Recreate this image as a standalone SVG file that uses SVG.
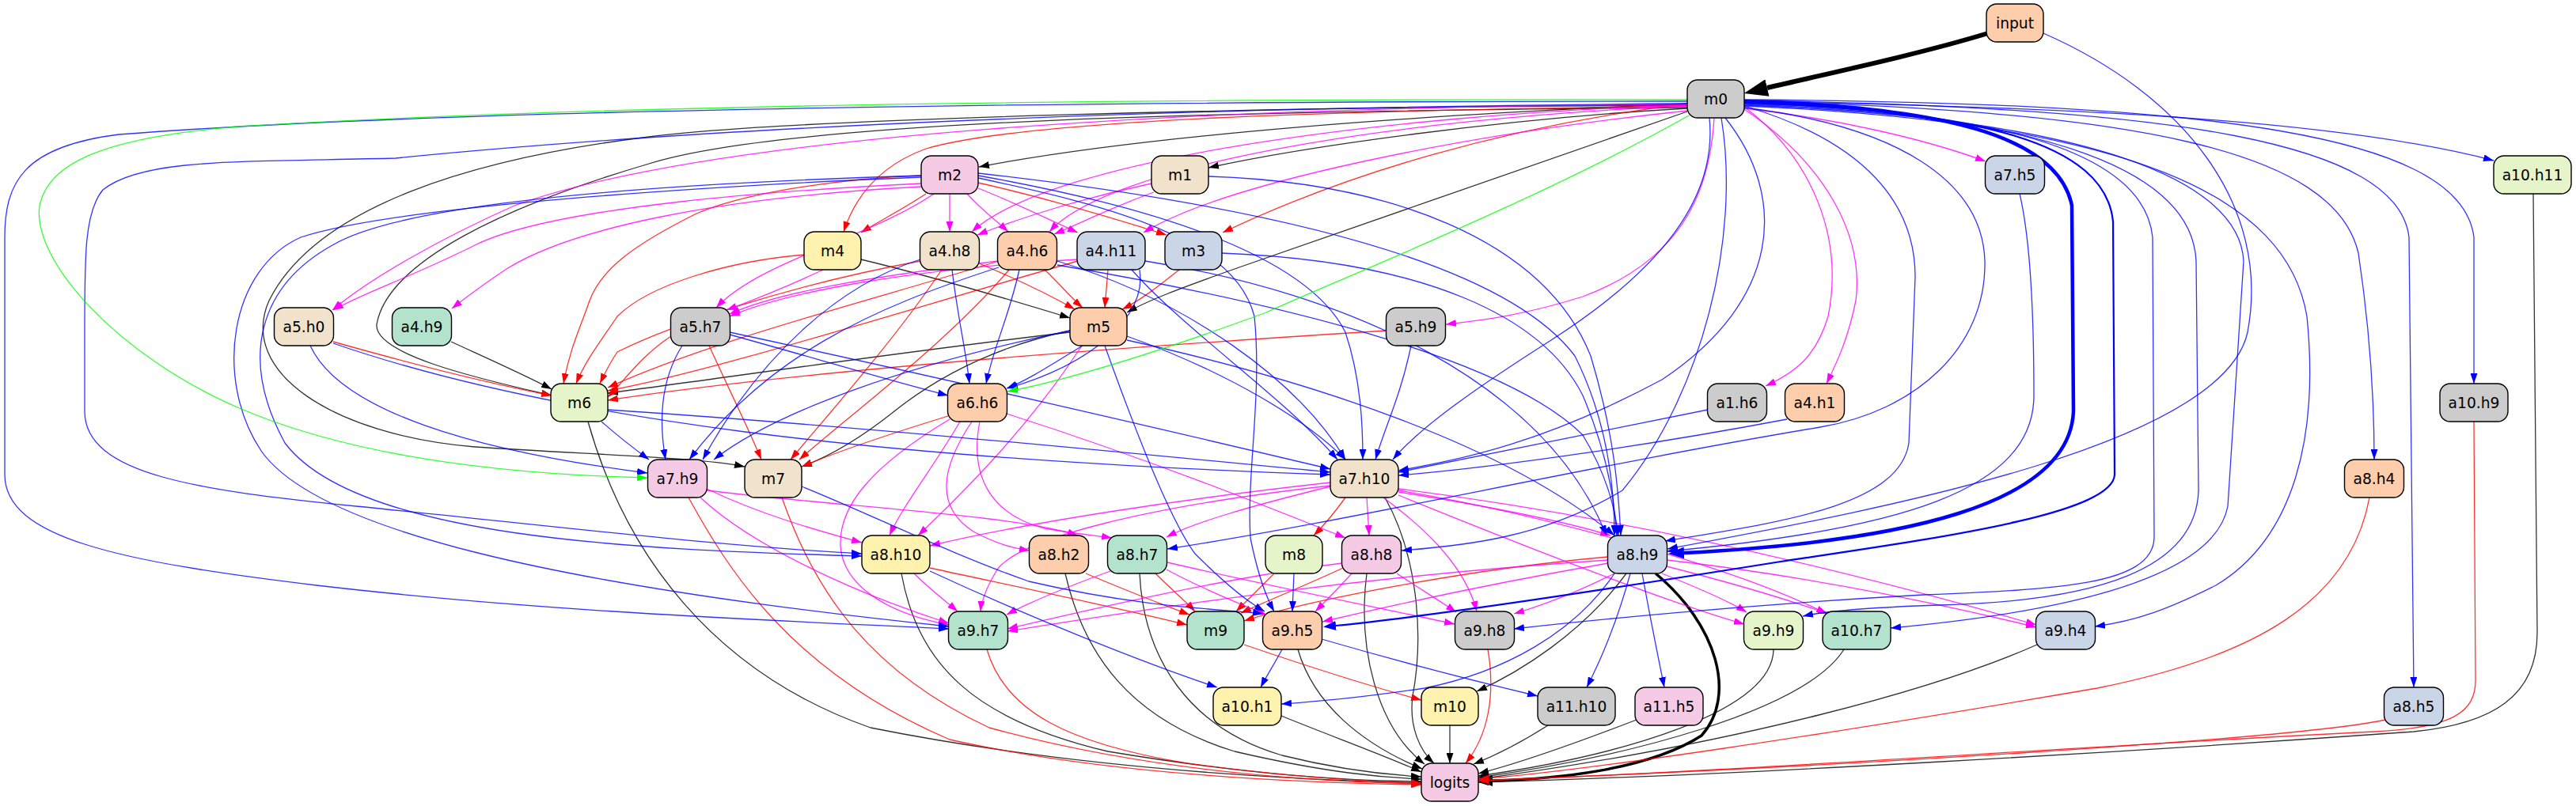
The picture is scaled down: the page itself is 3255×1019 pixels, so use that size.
<svg xmlns="http://www.w3.org/2000/svg" width="3255" height="1019" viewBox="0 0 3255 1019">
<style>
.n rect{stroke:#000;stroke-width:1.4}
.n text{font-family:"DejaVu Sans","Liberation Sans",sans-serif;font-size:18.67px;text-anchor:middle;fill:#000}
#edges path{fill:none;stroke-width:1.3;stroke-opacity:0.8}
#edges .b{stroke:#0000ff;marker-end:url(#ab)}
#edges .r{stroke:#ff0000;marker-end:url(#ar)}
#edges .m{stroke:#ff00ff;marker-end:url(#am)}
#edges .k{stroke:#000;marker-end:url(#ak)}
#edges .g{stroke:#00ff00;marker-end:url(#ag)}
.c1{fill:#b3e2cd}.c2{fill:#fdcdac}.c3{fill:#cbd5e8}.c4{fill:#f4cae4}.c5{fill:#e6f5c9}.c6{fill:#fff2ae}.c7{fill:#f1e2cc}.c8{fill:#cccccc}
</style>
<defs>
<marker id="ab" viewBox="0 0 13 9" refX="13" refY="4.5" markerWidth="13" markerHeight="9" markerUnits="userSpaceOnUse" orient="auto"><path d="M0,0L13,4.5L0,9z" fill="#0000ff"/></marker>
<marker id="ar" viewBox="0 0 13 9" refX="13" refY="4.5" markerWidth="13" markerHeight="9" markerUnits="userSpaceOnUse" orient="auto"><path d="M0,0L13,4.5L0,9z" fill="#ff0000"/></marker>
<marker id="am" viewBox="0 0 13 9" refX="13" refY="4.5" markerWidth="13" markerHeight="9" markerUnits="userSpaceOnUse" orient="auto"><path d="M0,0L13,4.5L0,9z" fill="#ff00ff"/></marker>
<marker id="ak" viewBox="0 0 13 9" refX="13" refY="4.5" markerWidth="13" markerHeight="9" markerUnits="userSpaceOnUse" orient="auto"><path d="M0,0L13,4.5L0,9z" fill="#000"/></marker>
<marker id="ag" viewBox="0 0 13 9" refX="13" refY="4.5" markerWidth="13" markerHeight="9" markerUnits="userSpaceOnUse" orient="auto"><path d="M0,0L13,4.5L0,9z" fill="#00ff00"/></marker>
<marker id="ak6" viewBox="0 0 30 22" refX="0" refY="11" markerWidth="30" markerHeight="22" markerUnits="userSpaceOnUse" orient="auto"><path d="M0,0L30,11L0,22z" fill="#000"/></marker>
<marker id="ak4" viewBox="0 0 18 14" refX="0" refY="7" markerWidth="18" markerHeight="14" markerUnits="userSpaceOnUse" orient="auto"><path d="M0,0L18,7L0,14z" fill="#000"/></marker>
<marker id="ab4" viewBox="0 0 20 15" refX="0" refY="7.5" markerWidth="20" markerHeight="15" markerUnits="userSpaceOnUse" orient="auto"><path d="M0,0L20,7.5L0,15z" fill="#0000ff"/></marker>
<marker id="ab2" viewBox="0 0 16 12" refX="0" refY="6" markerWidth="16" markerHeight="12" markerUnits="userSpaceOnUse" orient="auto"><path d="M0,0L16,6L0,12z" fill="#0000ff"/></marker>
</defs>
<rect width="3255" height="1019" fill="#fff"/>
<g id="edges">
<!-- black -->
<path d="M2512,42 C2420,70 2300,95 2233,111" style="stroke:#000;stroke-width:6;stroke-opacity:1;marker-end:url(#ak6)"/>
<path class="k" d="M2132,131 C1800,145 1450,170 1237,211"/>
<path class="k" d="M2132,137 C1900,150 1650,185 1527,212"/>
<path class="k" d="M2132,136 C1600,140 1000,150 820,207 C640,260 490,330 476,410 C472,450 620,482 697,500"/>
<path class="k" d="M2132,133 C1600,135 1000,150 820,173 C600,200 400,260 340,380 C300,470 420,550 600,565 C750,575 880,578 941,590"/>
<path class="k" d="M2132,141 C1900,220 1700,290 1560,340 C1490,365 1450,380 1424,395"/>
<path class="k" d="M1088,328 C1180,350 1280,380 1352,402"/>
<path class="k" d="M570,432 C620,455 665,475 697,492"/>
<path class="k" d="M1352,420 C1100,450 900,480 768,497"/>
<path class="k" d="M1352,418 C1250,440 1180,480 1130,520 C1080,560 1040,580 1013,590"/>
<path class="k" d="M743,533 C790,700 900,850 1100,920 C1350,970 1600,985 1796,990"/>
<path class="k" d="M1139,725 C1160,840 1230,910 1400,950 C1580,980 1700,987 1796,988"/>
<path class="k" d="M1346,725 C1370,830 1430,910 1560,950 C1680,978 1750,983 1796,985"/>
<path class="k" d="M1440,725 C1445,830 1500,920 1620,955 C1700,975 1760,980 1796,982"/>
<path class="k" d="M1640,821 C1660,890 1720,940 1797,972"/>
<path class="k" d="M1619,905 C1680,930 1750,955 1796,976"/>
<path class="k" d="M1727,725 C1715,820 1740,920 1800,966"/>
<path class="k" d="M1750,629 C1790,700 1800,800 1785,880 C1780,920 1795,950 1812,965"/>
<path class="k" d="M1832,917 L1832,965"/>
<path class="k" d="M1956,917 C1920,940 1890,955 1862,966"/>
<path class="k" d="M2068,910 C1990,940 1920,965 1868,978"/>
<path d="M2092,725 C2170,790 2195,880 2150,930 C2080,975 1960,985 1886,987" style="stroke:#000;stroke-width:3.5;stroke-opacity:1;marker-end:url(#ak4)"/>
<path class="k" d="M2241,821 C2240,900 2050,955 1868,981"/>
<path class="k" d="M2330,821 C2280,900 2050,958 1868,983"/>
<path class="k" d="M2574,815 C2450,870 2200,940 1868,985"/>
<path class="k" d="M3201,245 L3206,800 C3206,880 3150,915 3050,925 C2700,950 2200,980 1868,989"/>
<path class="k" d="M2055,725 C2000,800 1920,850 1866,874"/>
<!-- red -->
<path class="r" d="M2132,134 C1700,140 1300,150 1170,188 C1110,210 1080,250 1066,293"/>
<path class="r" d="M2132,131 C1900,160 1700,220 1545,294"/>
<path class="r" d="M1170,245 C1140,265 1110,280 1088,294"/>
<path class="r" d="M1236,231 C1320,250 1420,280 1474,297"/>
<path class="r" d="M1164,222 C1080,225 950,240 880,270 C800,310 760,340 745,380 C735,410 720,440 712,485"/>
<path class="r" d="M1017,322 C920,330 820,360 780,400 C760,430 740,455 728,485"/>
<path class="r" d="M1163,330 C1000,360 850,410 780,445 C770,460 765,470 758,485"/>
<path class="r" d="M1262,330 C1100,380 900,430 768,490"/>
<path class="r" d="M1362,330 C1150,390 900,470 768,494"/>
<path class="r" d="M848,425 C810,450 790,480 768,502"/>
<path class="r" d="M1752,418 C1400,440 1000,470 768,506"/>
<path class="r" d="M421,432 C520,460 620,485 697,500"/>
<path class="r" d="M1237,333 C1290,355 1330,375 1358,391"/>
<path class="r" d="M1320,341 C1340,360 1355,378 1368,389"/>
<path class="r" d="M1400,341 L1396,389"/>
<path class="r" d="M1490,341 C1460,365 1440,380 1418,391"/>
<path class="r" d="M1190,341 C1130,430 1050,520 999,581"/>
<path class="r" d="M1275,341 C1200,430 1080,520 1010,581"/>
<path class="r" d="M896,437 C920,490 945,540 962,581"/>
<path class="r" d="M1198,526 C1120,550 1060,570 1013,590"/>
<path class="r" d="M1700,629 C1685,650 1672,665 1660,677"/>
<path class="r" d="M1175,718 C1300,745 1420,770 1500,790"/>
<path class="r" d="M1372,725 C1420,745 1470,765 1503,777"/>
<path class="r" d="M1460,725 C1480,745 1498,760 1510,773"/>
<path class="r" d="M1610,725 C1590,745 1575,760 1562,773"/>
<path class="r" d="M1697,718 C1650,740 1600,760 1568,775"/>
<path class="r" d="M2032,704 C1850,720 1650,760 1572,785"/>
<path class="r" d="M1572,815 C1660,845 1740,870 1796,885"/>
<path class="r" d="M1247,821 C1270,900 1350,940 1500,965 C1650,985 1740,988 1796,990"/>
<path class="r" d="M870,629 C920,720 1000,850 1200,935 C1400,980 1650,990 1796,992"/>
<path class="r" d="M988,629 C1030,750 1100,850 1250,920 C1450,975 1650,988 1796,991"/>
<path class="r" d="M1880,821 C1890,880 1880,930 1852,965"/>
<path class="r" d="M2994,629 C2970,760 2850,830 2650,870 C2300,930 2000,975 1868,985"/>
<path class="r" d="M3126,533 L3128,860 C3128,900 3100,920 3000,925 C2600,945 2200,975 1868,987"/>
<path class="r" d="M3014,910 C2900,935 2300,970 1868,987"/>
<!-- magenta -->
<path class="m" d="M2204,137 C2320,150 2430,175 2509,204"/>
<path class="m" d="M2132,133 C1750,145 1330,200 1228,293"/>
<path class="m" d="M2132,134 C1750,150 1400,210 1326,293"/>
<path class="m" d="M2132,140 C1850,170 1550,230 1445,294"/>
<path class="m" d="M2132,132 C1500,135 900,170 650,260 C560,300 470,350 420,392"/>
<path class="m" d="M2166,149 C2160,250 2120,330 2000,375 C1920,400 1870,405 1827,410"/>
<path class="m" d="M2204,135 C2290,200 2330,300 2310,400 C2295,450 2270,470 2231,488"/>
<path class="m" d="M2204,138 C2310,210 2355,300 2345,380 C2335,430 2320,460 2308,485"/>
<path class="m" d="M1200,245 L1200,293"/>
<path class="m" d="M1222,245 C1240,265 1260,280 1274,293"/>
<path class="m" d="M1236,238 C1280,255 1330,280 1362,294"/>
<path class="m" d="M1180,245 C1100,300 960,330 905,389"/>
<path class="m" d="M1164,232 C1000,240 700,260 600,310 C520,350 460,370 421,392"/>
<path class="m" d="M1164,236 C900,250 720,290 640,340 C610,360 590,375 571,390"/>
<path class="m" d="M1455,232 C1370,250 1290,275 1235,297"/>
<path class="m" d="M1458,243 C1410,260 1370,280 1332,296"/>
<path class="m" d="M1040,341 C1000,360 950,380 918,392"/>
<path class="m" d="M1261,330 C1100,350 980,370 922,397"/>
<path class="m" d="M1361,328 C1150,340 990,370 922,400"/>
<path class="m" d="M1367,437 C1300,540 1220,620 1160,677"/>
<path class="m" d="M1213,533 C1180,590 1140,640 1124,677"/>
<path class="m" d="M1200,530 C1100,590 1060,640 1062,690 C1065,740 1120,775 1199,790"/>
<path class="m" d="M1228,533 C1190,590 1180,640 1230,672 C1260,688 1280,693 1301,696"/>
<path class="m" d="M1238,533 C1225,600 1250,650 1320,668 C1360,675 1385,677 1405,680"/>
<path class="m" d="M1272,523 C1450,580 1600,640 1700,680"/>
<path class="m" d="M893,618 C960,650 1030,670 1089,686"/>
<path class="m" d="M885,629 C950,690 1080,750 1199,788"/>
<path class="m" d="M893,620 C1050,640 1280,650 1362,677"/>
<path class="m" d="M1727,629 L1730,677"/>
<path class="m" d="M1767,622 C1880,640 1980,660 2035,677"/>
<path class="m" d="M1681,615 C1580,640 1510,660 1474,679"/>
<path class="m" d="M1681,610 C1500,630 1300,660 1175,690"/>
<path class="m" d="M1681,614 C1450,640 1290,680 1260,720 C1245,745 1240,760 1239,773"/>
<path class="m" d="M1748,629 C1790,660 1850,710 1866,773"/>
<path class="m" d="M1767,626 C1900,680 2100,760 2204,789"/>
<path class="m" d="M1767,620 C1950,650 2200,720 2308,776"/>
<path class="m" d="M1767,618 C2100,660 2400,740 2573,790"/>
<path class="m" d="M1155,725 C1175,745 1195,760 1210,773"/>
<path class="m" d="M1403,722 C1340,745 1300,762 1272,777"/>
<path class="m" d="M1474,720 C1520,745 1570,765 1600,777"/>
<path class="m" d="M1475,711 C1600,740 1750,770 1838,789"/>
<path class="m" d="M1708,725 C1690,745 1675,760 1662,773"/>
<path class="m" d="M1765,725 C1795,745 1820,760 1840,774"/>
<path class="m" d="M1696,712 C1550,730 1380,770 1273,795"/>
<path class="m" d="M2032,708 C1700,730 1450,770 1273,798"/>
<path class="m" d="M2032,712 C1900,735 1760,765 1671,786"/>
<path class="m" d="M2040,725 C1990,750 1950,765 1913,776"/>
<path class="m" d="M2100,725 C2150,745 2185,760 2207,774"/>
<path class="m" d="M2106,716 C2200,740 2270,762 2310,776"/>
<path class="m" d="M2106,708 C2300,730 2480,770 2573,793"/>
<!-- blue -->
<path class="b" d="M2582,42 C2760,120 2870,260 2840,420 C2810,560 2400,640 2107,694"/>
<path class="b" d="M2204,128 C2600,135 2950,150 3151,203"/>
<path class="b" d="M2132,128 C1500,128 600,135 150,170 C30,185 6,230 6,300 L6,600 C6,680 150,710 400,740 C700,775 1000,785 1199,795"/>
<path class="b" d="M2132,131 C1500,135 900,160 500,200 C300,205 180,200 130,240 C105,270 107,330 107,450 L107,520 C107,600 250,620 450,640 C700,665 900,690 1089,700"/>
<path class="b" d="M2160,149 C2170,250 2100,340 1960,430 C1850,500 1790,545 1760,581"/>
<path class="b" d="M2180,149 C2260,250 2250,380 2100,480 C1950,560 1850,580 1767,595"/>
<path d="M2204,128 C2450,135 2600,170 2618,260 L2620,520 C2615,640 2400,685 2128,699" style="stroke:#0000ff;stroke-width:4.5;stroke-opacity:1;marker-end:url(#ab4)"/>
<path d="M2204,130 C2500,140 2660,180 2670,280 L2672,600 C2670,650 2450,680 2250,710 C2000,750 1800,780 1688,791" style="stroke:#0000ff;stroke-width:2.2;stroke-opacity:1;marker-end:url(#ab2)"/>
<path class="b" d="M2204,134 C2360,180 2420,260 2420,350 L2412,560 C2400,640 2250,660 2104,684"/>
<path class="b" d="M2204,136 C2400,160 2505,230 2508,330 C2510,440 2420,520 2300,540 C2000,590 1700,660 1475,694"/>
<path class="b" d="M2175,149 C2200,300 2150,500 2050,620 C1950,680 1850,690 1771,696"/>
<path class="b" d="M2204,131 C2550,140 2710,200 2720,300 L2722,680 C2720,740 2600,745 2430,752 C2200,765 2000,785 1913,795"/>
<path class="b" d="M2204,132 C2600,145 2770,220 2775,330 L2778,620 C2775,720 2650,760 2450,765 C2360,768 2310,772 2278,779"/>
<path class="b" d="M2204,133 C2650,150 2830,230 2835,330 L2815,640 C2800,720 2650,770 2389,794"/>
<path class="b" d="M2204,134 C2700,155 2890,250 2915,400 C2930,550 2900,680 2800,740 C2740,770 2700,785 2647,792"/>
<path class="b" d="M2204,128 C2700,140 2950,190 2980,320 C2995,420 3000,500 3000,581"/>
<path class="b" d="M2204,127 C2750,135 3030,180 3044,300 L3050,869"/>
<path class="b" d="M2204,126 C2800,130 3110,170 3126,300 L3126,485"/>
<path class="b" d="M1527,223 C1750,230 1950,300 2010,450 C2040,550 2045,620 2048,677"/>
<path class="b" d="M1544,320 C1800,330 1950,400 2000,500 C2030,570 2040,630 2043,677"/>
<path class="b" d="M1236,219 C1600,260 1900,330 1990,450 C2030,530 2040,610 2040,677"/>
<path class="b" d="M1236,222 C1450,260 1650,320 1700,420 C1720,480 1722,540 1722,581"/>
<path class="b" d="M1236,225 C1400,260 1560,300 1585,400 C1595,500 1575,600 1580,680 C1590,730 1600,755 1610,773"/>
<path class="b" d="M1164,222 C900,230 520,250 420,310 C330,360 300,450 360,560 C450,680 800,695 1089,703"/>
<path class="b" d="M1164,224 C900,235 500,260 380,300 C290,340 270,480 330,570 C400,670 700,740 1199,792"/>
<path class="b" d="M1203,341 C1210,400 1220,440 1225,485"/>
<path class="b" d="M1163,328 C1060,360 960,450 888,581"/>
<path class="b" d="M1288,341 C1275,400 1255,440 1246,485"/>
<path class="b" d="M1262,338 C1100,390 970,450 871,581"/>
<path class="b" d="M1336,335 C1600,380 1900,450 2000,550 C2030,600 2040,640 2045,677"/>
<path class="b" d="M1336,330 C1500,380 1640,480 1700,581"/>
<path class="b" d="M1440,341 C1450,400 1380,460 1273,491"/>
<path class="b" d="M1447,330 C1700,370 1950,480 2030,677"/>
<path class="b" d="M1430,341 C1500,420 1620,500 1690,581"/>
<path class="b" d="M392,437 C430,520 600,570 818,598"/>
<path class="b" d="M421,434 C700,530 1100,580 1681,600"/>
<path class="b" d="M862,437 C835,480 832,530 841,581"/>
<path class="b" d="M922,423 C1020,450 1120,480 1198,500"/>
<path class="b" d="M922,420 C1200,480 1500,550 1681,593"/>
<path class="b" d="M1352,418 C1150,460 980,520 902,581"/>
<path class="b" d="M1368,437 C1330,460 1300,480 1272,491"/>
<path class="b" d="M1424,425 C1550,470 1650,530 1700,581"/>
<path class="b" d="M1424,430 C1650,480 1900,560 2040,677"/>
<path class="b" d="M1396,437 C1440,560 1480,660 1510,700 C1550,740 1575,760 1598,773"/>
<path class="b" d="M1783,437 C1770,500 1750,540 1738,581"/>
<path class="b" d="M760,533 C785,555 805,570 820,581"/>
<path class="b" d="M768,518 C1100,540 1450,575 1681,597"/>
<path class="b" d="M2158,518 C2000,550 1850,580 1767,597"/>
<path class="b" d="M2258,530 C2100,560 1900,590 1767,601"/>
<path class="b" d="M2552,245 C2565,300 2570,400 2570,500 C2570,620 2400,670 2106,697"/>
<path class="b" d="M1013,615 C1100,650 1200,700 1300,735 C1450,770 1550,770 1596,776"/>
<path class="b" d="M1175,722 C1300,780 1450,840 1538,869"/>
<path class="b" d="M1635,725 L1633,773"/>
<path class="b" d="M2060,725 C2045,780 2025,830 2005,869"/>
<path class="b" d="M2075,725 C2085,780 2095,830 2103,869"/>
<path class="b" d="M2040,725 C1990,800 1900,850 1800,870 C1700,885 1650,888 1619,890"/>
<path class="b" d="M1620,821 C1610,840 1600,855 1593,869"/>
<path class="b" d="M1670,808 C1780,840 1880,865 1943,880"/>
<!-- green -->
<path class="g" d="M2132,126 C1500,125 800,130 300,160 C120,175 60,210 50,260 C40,330 150,450 300,515 C450,580 650,600 818,604"/>
<path class="g" d="M2134,146 C1950,250 1700,350 1600,395 C1450,450 1350,480 1273,495"/>
</g>
<g id="nodes">
<g id="n-input" class="n"><rect class="c2" x="2510" y="5" width="72" height="48" rx="13"/><text x="2546" y="36">input</text></g>
<g id="n-m0" class="n"><rect class="c8" x="2132" y="101" width="72" height="48" rx="13"/><text x="2168" y="132">m0</text></g>
<g id="n-m2" class="n"><rect class="c4" x="1164" y="197" width="72" height="48" rx="13"/><text x="1200" y="228">m2</text></g>
<g id="n-m1" class="n"><rect class="c7" x="1455" y="197" width="72" height="48" rx="13"/><text x="1491" y="228">m1</text></g>
<g id="n-a7h5" class="n"><rect class="c3" x="2508.5" y="197" width="75" height="48" rx="13"/><text x="2546" y="228">a7.h5</text></g>
<g id="n-a10h11" class="n"><rect class="c5" x="3151" y="197" width="98" height="48" rx="13"/><text x="3200" y="228">a10.h11</text></g>
<g id="n-m4" class="n"><rect class="c6" x="1016" y="293" width="72" height="48" rx="13"/><text x="1052" y="324">m4</text></g>
<g id="n-a4h8" class="n"><rect class="c7" x="1162.5" y="293" width="75" height="48" rx="13"/><text x="1200" y="324">a4.h8</text></g>
<g id="n-a4h6" class="n"><rect class="c2" x="1260.5" y="293" width="75" height="48" rx="13"/><text x="1298" y="324">a4.h6</text></g>
<g id="n-a4h11" class="n"><rect class="c3" x="1361" y="293" width="86" height="48" rx="13"/><text x="1404" y="324">a4.h11</text></g>
<g id="n-m3" class="n"><rect class="c3" x="1472" y="293" width="72" height="48" rx="13"/><text x="1508" y="324">m3</text></g>
<g id="n-a5h0" class="n"><rect class="c7" x="346.5" y="389" width="75" height="48" rx="13"/><text x="384" y="420">a5.h0</text></g>
<g id="n-a4h9" class="n"><rect class="c1" x="495.5" y="389" width="75" height="48" rx="13"/><text x="533" y="420">a4.h9</text></g>
<g id="n-a5h7" class="n"><rect class="c8" x="847.5" y="389" width="75" height="48" rx="13"/><text x="885" y="420">a5.h7</text></g>
<g id="n-m5" class="n"><rect class="c2" x="1352" y="389" width="72" height="48" rx="13"/><text x="1388" y="420">m5</text></g>
<g id="n-a5h9" class="n"><rect class="c8" x="1751.5" y="389" width="75" height="48" rx="13"/><text x="1789" y="420">a5.h9</text></g>
<g id="n-m6" class="n"><rect class="c5" x="696" y="485" width="72" height="48" rx="13"/><text x="732" y="516">m6</text></g>
<g id="n-a6h6" class="n"><rect class="c2" x="1197.5" y="485" width="75" height="48" rx="13"/><text x="1235" y="516">a6.h6</text></g>
<g id="n-a1h6" class="n"><rect class="c8" x="2157.5" y="485" width="75" height="48" rx="13"/><text x="2195" y="516">a1.h6</text></g>
<g id="n-a4h1" class="n"><rect class="c2" x="2255.5" y="485" width="75" height="48" rx="13"/><text x="2293" y="516">a4.h1</text></g>
<g id="n-a10h9" class="n"><rect class="c8" x="3083" y="485" width="86" height="48" rx="13"/><text x="3126" y="516">a10.h9</text></g>
<g id="n-a7h9" class="n"><rect class="c4" x="818.5" y="581" width="75" height="48" rx="13"/><text x="856" y="612">a7.h9</text></g>
<g id="n-m7" class="n"><rect class="c7" x="941" y="581" width="72" height="48" rx="13"/><text x="977" y="612">m7</text></g>
<g id="n-a7h10" class="n"><rect class="c7" x="1681" y="581" width="86" height="48" rx="13"/><text x="1724" y="612">a7.h10</text></g>
<g id="n-a8h4" class="n"><rect class="c2" x="2962.5" y="581" width="75" height="48" rx="13"/><text x="3000" y="612">a8.h4</text></g>
<g id="n-a8h10" class="n"><rect class="c6" x="1089" y="677" width="86" height="48" rx="13"/><text x="1132" y="708">a8.h10</text></g>
<g id="n-a8h2" class="n"><rect class="c2" x="1300.5" y="677" width="75" height="48" rx="13"/><text x="1338" y="708">a8.h2</text></g>
<g id="n-a8h7" class="n"><rect class="c1" x="1399.5" y="677" width="75" height="48" rx="13"/><text x="1437" y="708">a8.h7</text></g>
<g id="n-m8" class="n"><rect class="c5" x="1599" y="677" width="72" height="48" rx="13"/><text x="1635" y="708">m8</text></g>
<g id="n-a8h8" class="n"><rect class="c4" x="1695.5" y="677" width="75" height="48" rx="13"/><text x="1733" y="708">a8.h8</text></g>
<g id="n-a8h9" class="n"><rect class="c3" x="2031.5" y="677" width="75" height="48" rx="13"/><text x="2069" y="708">a8.h9</text></g>
<g id="n-a9h7" class="n"><rect class="c1" x="1198.5" y="773" width="75" height="48" rx="13"/><text x="1236" y="804">a9.h7</text></g>
<g id="n-m9" class="n"><rect class="c1" x="1500" y="773" width="72" height="48" rx="13"/><text x="1536" y="804">m9</text></g>
<g id="n-a9h5" class="n"><rect class="c2" x="1595.5" y="773" width="75" height="48" rx="13"/><text x="1633" y="804">a9.h5</text></g>
<g id="n-a9h8" class="n"><rect class="c8" x="1838.5" y="773" width="75" height="48" rx="13"/><text x="1876" y="804">a9.h8</text></g>
<g id="n-a9h9" class="n"><rect class="c5" x="2203.5" y="773" width="75" height="48" rx="13"/><text x="2241" y="804">a9.h9</text></g>
<g id="n-a10h7" class="n"><rect class="c1" x="2303" y="773" width="86" height="48" rx="13"/><text x="2346" y="804">a10.h7</text></g>
<g id="n-a9h4" class="n"><rect class="c3" x="2572.5" y="773" width="75" height="48" rx="13"/><text x="2610" y="804">a9.h4</text></g>
<g id="n-a10h1" class="n"><rect class="c6" x="1533" y="869" width="86" height="48" rx="13"/><text x="1576" y="900">a10.h1</text></g>
<g id="n-m10" class="n"><rect class="c6" x="1796" y="869" width="72" height="48" rx="13"/><text x="1832" y="900">m10</text></g>
<g id="n-a11h10" class="n"><rect class="c8" x="1943" y="869" width="98" height="48" rx="13"/><text x="1992" y="900">a11.h10</text></g>
<g id="n-a11h5" class="n"><rect class="c4" x="2066" y="869" width="86" height="48" rx="13"/><text x="2109" y="900">a11.h5</text></g>
<g id="n-a8h5" class="n"><rect class="c3" x="3012.5" y="869" width="75" height="48" rx="13"/><text x="3050" y="900">a8.h5</text></g>
<g id="n-logits" class="n"><rect class="c4" x="1796" y="965" width="72" height="48" rx="13"/><text x="1832" y="996">logits</text></g>
</g>
</svg>
